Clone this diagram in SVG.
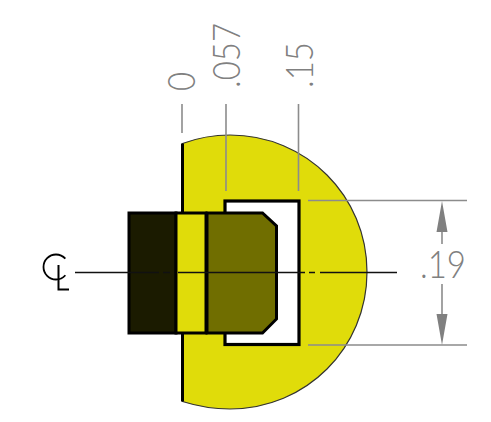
<svg xmlns="http://www.w3.org/2000/svg" width="491" height="422" viewBox="0 0 491 422">
<style>
.dim{fill:none;stroke:#8c8c8c;stroke-width:1.6}
.ah{fill:#808080;stroke:none}
.t{font-family:"Lato","Liberation Sans",sans-serif;font-weight:300;font-size:33px;fill:#808080}
.k{stroke:#000;stroke-width:3;stroke-linejoin:miter}
.cl{stroke:#111;stroke-width:1.3;fill:none}
</style>
<rect width="491" height="422" fill="#fff"/>
<g id="body">
<path d="M182.500 143.500C200 137 215 135 230 135C306 135 367 196 367 272C367 348 306 409 230 409C215 409 200 407 182.500 401.500Z" fill="#e0dc0a" stroke="#333" stroke-width="1.200"/>
<path d="M182.500 143.500V212M182.500 334V401.500" fill="none" stroke="#000" stroke-width="3"/>
</g>
<g id="slot"><rect x="225" y="201" width="74" height="143.500" fill="#fff" stroke="#000" stroke-width="3.200"/></g>
<g id="cap"><rect x="129" y="213" width="47" height="120" fill="#1b1b00" class="k"/></g>
<g id="band"><rect x="176" y="213" width="30" height="120" fill="#e0dc0a" class="k"/></g>
<g id="plug"><path d="M207 213H262.500L276.500 226V319L262.500 333H207Z" fill="#706e00" class="k"/></g>
<g id="connectors">
<path class="dim" d="M182 104V133M226 104V191M298.500 104V191M308 200.500H467M308 345H467M442 230V244M442 284V317"/>
<path class="ah" d="M442 201L436.500 232H447.500ZM442 345L436.500 314H447.500Z"/>
<path class="cl" d="M75 272.500H159M163 272.500H170M178 272.500H305M309 272.500H315M320 272.500H397"/>
</g>
<g id="centerline-symbol">
<circle cx="56" cy="267" r="12.500" fill="none" stroke="#000" stroke-width="1.800" stroke-dasharray="60 18.500" stroke-dashoffset="-9"/>
<path d="M58.500 265V289.500H69" fill="none" stroke="#000" stroke-width="2"/>
</g>
<g id="labels">
<text class="t" transform="translate(194.500 91) rotate(-90) scale(1 1.120)">0</text>
<text class="t" transform="translate(239.500 88) rotate(-90) scale(1 1.120)">.057</text>
<text class="t" transform="translate(312.500 88) rotate(-90) scale(1 1.120)">.15</text>
<text class="t" transform="translate(420 278) scale(1 1.120)">.19</text>
</g>
</svg>
